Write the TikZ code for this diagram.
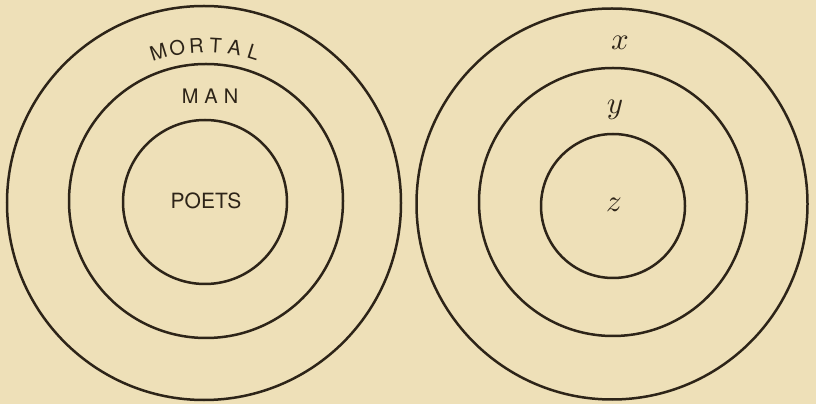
\documentclass[tikz,border=0pt]{standalone}
\usepackage{fontspec}
\usepackage{tikz}
\usetikzlibrary{positioning,calc}
\newfontfamily\labelsans{TeX Gyre Heros}
\newfontfamily\spacedsans[LetterSpace=30]{TeX Gyre Heros}
\definecolor{PaperTan}{RGB}{238,224,184}
\definecolor{InkBrown}{RGB}{45,36,24}

\begin{document}
\begin{tikzpicture}[
    x=1pt,y=1pt,
    ring/.style={circle,draw=InkBrown,line width=2.5pt,inner sep=0pt},
    caps/.style={text=InkBrown,font=\fontsize{20}{22}\labelsans,inner sep=0pt},
    var/.style={text=InkBrown,scale=3.1,inner sep=0pt}
  ]
    \fill[PaperTan] (0,0) rectangle (816,404);
    \useasboundingbox (0,0) rectangle (816,404);
    % left set of classes
    \node[ring,minimum size=394pt] (mortalL) at (204,201) {};
    \node[ring,minimum size=274pt] (manL) at (206,203) {};
    \node[ring,minimum size=164pt] (poetsL) at (205,202) {};
    \coordinate (arcC) at (206,201);
    \foreach \ch [count=\i] in {M,O,R,T,A,L}
      \node[caps,rotate=114.5-7*\i-90] (mortal\i) at ($(arcC)+(114.5-7*\i:158)$) {\ch};
    \node[caps,font=\fontsize{20}{22}\spacedsans] (manT) at (210,308) {MAN};
    \node[caps,font=\fontsize{21}{24}\labelsans] (poetsT) at (206,203) {POETS};
    % right set of classes
    \node[ring,minimum size=391pt] (xR) at (612,200) {};
    \node[ring,minimum size=268pt] (yR) at (613,202) {};
    \node[ring,minimum size=144pt] (zR) at (613,198) {};
    \node[var] (xT) at (620,361) {$x$};
    \node[var] (yT) at (615,294) {$y$};
    \node[var] (zT) at (614,199) {$z$};
  \end{tikzpicture}
\end{document}
